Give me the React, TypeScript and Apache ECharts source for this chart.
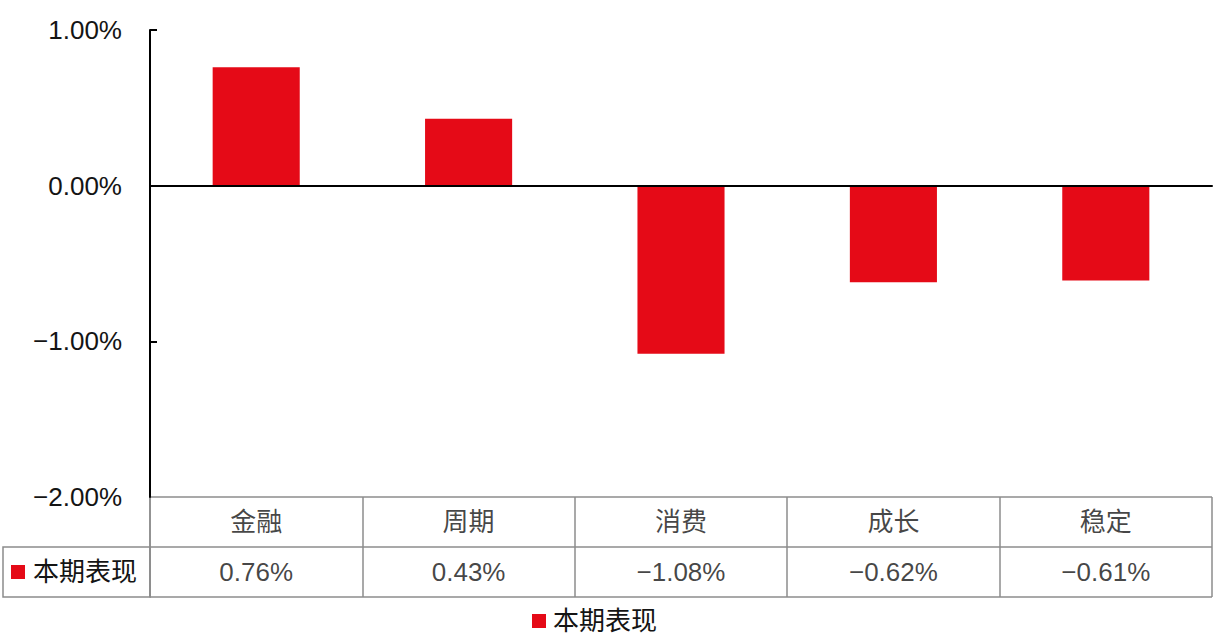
import React, { useEffect, useRef } from "react";
import * as echarts from "echarts";

const categories = ["金融", "周期", "消费", "成长", "稳定"];
const values = [0.76, 0.43, -1.08, -0.62, -0.61];
const seriesName = "本期表现";
const yTicks = { min: -2, max: 1, interval: 1 };
const tickMarks = [1, 0, -1];

const RED = "#E50A17";
const GRID_LINE = "#8c8c8c";
const FONT = "'Liberation Sans', Arial, 'Noto Sans CJK SC', sans-serif";
const TEXT = "#141414";

const fmtPct = (v: number) => (v < 0 ? "\u2212" : "") + Math.abs(v).toFixed(2) + "%";

export default function App() {
  const ref = useRef<HTMLDivElement>(null);
  useEffect(() => {
    if (!ref.current) return;
    const chart = echarts.init(ref.current, undefined, { renderer: "svg" });
    chart.setOption({
      animation: false,
      textStyle: { fontFamily: FONT },
      legend: {
        data: [seriesName],
        left: 532,
        top: 608,
        padding: 0,
        icon: "rect",
        itemWidth: 14,
        itemHeight: 14,
        itemGap: 10,
        textStyle: { fontSize: 26, color: TEXT, fontFamily: FONT, padding: [0, 0, 0, 2] },
      },
      grid: [
        { left: 150, top: 30, width: 1062, height: 467 },
        { left: 150, top: 497, width: 1062, height: 100 },
      ],
      xAxis: [
        {
          type: "category",
          gridIndex: 0,
          data: categories,
          z: 10,
          axisLine: { show: true, onZero: true, lineStyle: { color: "#000", width: 2 } },
          axisTick: { show: false },
          axisLabel: { show: false },
          splitLine: { show: false },
        },
        {
          type: "category",
          gridIndex: 1,
          data: categories,
          axisLine: { show: false },
          axisTick: { show: false },
          axisLabel: { show: false },
          splitLine: { show: true, lineStyle: { color: GRID_LINE, width: 1.5 } },
        },
      ],
      yAxis: [
        {
          type: "value",
          gridIndex: 0,
          min: yTicks.min,
          max: yTicks.max,
          interval: yTicks.interval,
          z: 10,
          axisLine: { show: true, lineStyle: { color: "#000", width: 2 } },
          axisTick: {
            show: true,
            inside: true,
            length: 7,
            customValues: tickMarks,
            lineStyle: { color: "#000", width: 2 },
          },
          splitLine: { show: false },
          axisLabel: {
            margin: 28,
            fontSize: 26,
            color: TEXT,
            fontFamily: FONT,
            formatter: (v: number) => fmtPct(v),
          },
        },
        {
          type: "category",
          gridIndex: 1,
          data: [seriesName, "cat"],
          axisLine: { show: true, lineStyle: { color: GRID_LINE, width: 1.5 } },
          axisTick: { show: false },
          splitLine: { show: true, lineStyle: { color: GRID_LINE, width: 1.5 } },
          axisLabel: {
            margin: 13,
            formatter: (v: string) => (v === seriesName ? "{sq|}{t|" + v + "}" : ""),
            rich: {
              sq: { width: 14, height: 14, backgroundColor: RED },
              t: { fontSize: 26, color: TEXT, fontFamily: FONT, padding: [0, 0, 0, 8] },
            },
          },
        },
      ],
      graphic: [
        {
          type: "rect",
          shape: { x: 3, y: 547, width: 147, height: 50 },
          style: { fill: "none", stroke: GRID_LINE, lineWidth: 1.5 },
          silent: true,
        },
      ],
      series: [
        {
          name: seriesName,
          type: "bar",
          xAxisIndex: 0,
          yAxisIndex: 0,
          data: values,
          barWidth: "41%",
          itemStyle: { color: RED },
        },
        {
          name: "cats",
          type: "scatter",
          xAxisIndex: 1,
          yAxisIndex: 1,
          symbolSize: 1,
          itemStyle: { color: "rgba(0,0,0,0)" },
          data: categories.map((c, i) => [i, 1, c]),
          label: {
            show: true,
            position: "inside",
            fontSize: 26,
            color: TEXT,
            fontFamily: FONT,
            formatter: (p: any) => p.value[2],
          },
        },
        {
          name: "vals",
          type: "scatter",
          xAxisIndex: 1,
          yAxisIndex: 1,
          symbolSize: 1,
          itemStyle: { color: "rgba(0,0,0,0)" },
          data: values.map((v, i) => [i, 0, fmtPct(v)]),
          label: {
            show: true,
            position: "inside",
            fontSize: 26,
            color: TEXT,
            fontFamily: FONT,
            formatter: (p: any) => p.value[2],
          },
        },
      ],
    });
    return () => chart.dispose();
  }, []);
  return (
    <div
      ref={ref}
      style={{ position: "fixed", left: 0, top: 0, width: 1227, height: 642, background: "#fff" }}
    />
  );
}
